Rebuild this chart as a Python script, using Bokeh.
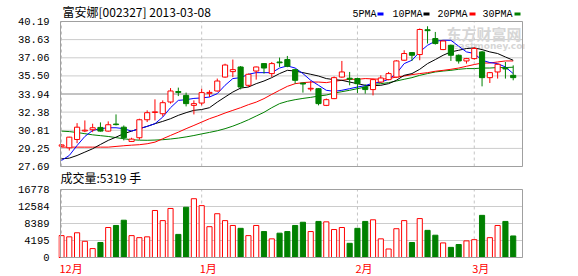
from bokeh.plotting import figure
from bokeh.models import Range1d, FixedTicker, ColumnDataSource
from bokeh.core.properties import value
from bokeh.embed import file_html
from bokeh.resources import INLINE

# ---------------- data ----------------
title_text = "富安娜[002327] 2013-03-08"
open_ = [29.45, 29.30, 30.02, 30.75, 30.86, 31.06, 30.74, 31.35, 31.08, 29.85,
         30.17, 31.72, 32.35, 32.24, 33.25, 34.15, 33.82, 32.96, 33.16, 34.00,
         34.20, 35.40, 35.87, 36.27, 34.69, 35.92, 36.56, 35.70, 36.70, 36.91,
         36.04, 34.88, 34.37, 34.40, 32.96, 33.54, 35.40, 35.30, 35.27, 34.54,
         34.32, 34.97, 35.18, 35.40, 36.85, 37.51, 37.34, 39.48, 38.72, 37.77,
         38.14, 37.28, 36.79, 36.99, 37.57, 35.35, 35.84, 36.15, 35.55]
high = [29.60, 30.25, 31.43, 31.66, 31.38, 31.49, 31.58, 32.18, 31.23, 30.17,
        31.81, 32.53, 33.48, 33.39, 34.45, 34.49, 34.06, 33.39, 34.40, 34.26,
        35.27, 36.55, 36.91, 36.35, 35.70, 36.30, 36.60, 36.70, 37.08, 37.22,
        36.10, 34.92, 35.06, 34.45, 33.55, 35.45, 36.79, 35.84, 35.35, 34.77,
        35.25, 35.55, 35.84, 36.85, 37.71, 37.55, 39.59, 39.78, 39.29, 38.55,
        38.20, 37.35, 37.05, 38.00, 37.65, 35.84, 36.55, 36.70, 36.41]
low = [29.40, 29.07, 29.70, 30.65, 30.65, 30.70, 30.70, 31.23, 29.94, 29.80,
       30.00, 31.52, 31.66, 32.01, 33.11, 33.76, 32.87, 32.18, 32.96, 33.68,
       34.15, 35.35, 35.40, 34.34, 34.54, 35.18, 35.70, 35.40, 36.27, 36.25,
       34.83, 34.06, 34.17, 32.96, 32.90, 33.50, 35.35, 34.69, 34.02, 33.97,
       33.82, 34.90, 35.12, 35.35, 36.80, 36.79, 36.85, 38.29, 38.20, 37.72,
       36.79, 36.56, 36.56, 36.90, 34.60, 34.89, 35.27, 35.27, 35.12]
close = [29.55, 30.22, 31.08, 30.82, 31.03, 30.74, 31.29, 31.30, 30.17, 30.05,
         31.72, 32.33, 32.40, 33.19, 34.20, 34.08, 33.11, 33.11, 34.06, 34.08,
         35.06, 36.44, 36.04, 34.54, 35.64, 36.27, 36.18, 36.56, 36.63, 36.33,
         35.12, 34.80, 34.43, 33.11, 33.45, 35.35, 35.84, 35.22, 34.83, 34.32,
         35.18, 35.32, 35.70, 36.79, 37.43, 37.28, 39.50, 39.40, 38.29, 38.51,
         37.28, 36.79, 36.99, 37.86, 35.35, 35.78, 36.50, 36.10, 35.35]
volume = [5400, 5100, 6100, 4000, 2200, 3700, 7400, 7900, 9200, 5400,
          4900, 5100, 11600, 9100, 12100, 5700, 12400, 14500, 12800, 7600,
          10800, 9100, 7900, 7200, 5400, 7900, 6400, 4600, 6000, 6400,
          7900, 8700, 6400, 8900, 8800, 6900, 7400, 3500, 7200, 8900,
          9300, 4600, 2100, 7100, 9100, 3700, 9600, 6700, 5500, 3600,
          2500, 3200, 4100, 4400, 10400, 4900, 7900, 8900, 5319]
ma5 = [28.21, 28.64, 29.50, 30.28, 30.80, 30.95, 31.03, 31.03, 30.95, 30.74,
       30.95, 31.15, 31.38, 31.95, 32.76, 33.39, 33.45, 33.56, 33.60, 33.68,
       33.97, 34.69, 35.27, 35.35, 35.64, 35.78, 35.78, 35.78, 36.18, 36.36,
       36.18, 35.70, 35.12, 34.69, 34.26, 34.17, 34.26, 34.40, 34.54, 34.66,
       34.88, 34.96, 35.21, 35.70, 36.56, 36.85, 37.57, 38.14, 38.49, 38.57,
       38.57, 38.06, 37.57, 37.43, 36.85, 36.65, 36.56, 36.27, 35.70]
ma10 = [28.35, 28.41, 28.64, 28.93, 29.22, 29.59, 29.94, 30.22, 30.52, 30.74,
        30.95, 31.15, 31.38, 31.58, 31.81, 32.10, 32.33, 32.53, 32.60, 32.76,
        33.24, 33.68, 34.11, 34.45, 34.54, 34.83, 35.06, 35.35, 35.70, 35.98,
        35.92, 35.78, 35.64, 35.49, 35.27, 35.18, 35.12, 34.97, 34.83, 34.69,
        34.66, 34.69, 34.83, 35.12, 35.55, 35.70, 36.07, 36.56, 36.91, 37.28,
        37.57, 37.71, 37.86, 37.91, 37.77, 37.57, 37.43, 37.13, 36.85]
ma20 = [29.36, 29.36, 29.36, 29.36, 29.36, 29.36, 29.36, 29.42, 29.48, 29.53,
        29.57, 29.65, 29.79, 30.08, 30.37, 30.65, 30.95, 31.23, 31.52, 31.81,
        32.04, 32.30, 32.53, 32.76, 33.02, 33.24, 33.54, 33.91, 34.26, 34.60,
        34.83, 34.92, 34.97, 34.97, 34.92, 35.03, 35.12, 35.21, 35.21, 35.27,
        35.24, 35.21, 35.27, 35.40, 35.49, 35.61, 35.70, 35.78, 35.90, 35.98,
        36.07, 36.18, 36.33, 36.48, 36.61, 36.61, 36.70, 36.79, 36.79]
ma30 = [30.74, 30.70, 30.62, 30.52, 30.42, 30.35, 30.28, 30.18, 30.08, 30.00,
        29.96, 29.95, 29.97, 30.00, 30.06, 30.14, 30.24, 30.36, 30.50, 30.63,
        30.77, 30.95, 31.17, 31.43, 31.72, 32.04, 32.36, 32.76, 33.11, 33.31,
        33.45, 33.56, 33.65, 33.76, 33.85, 34.02, 34.14, 34.26, 34.40, 34.54,
        34.77, 34.83, 34.92, 35.06, 35.21, 35.35, 35.55, 35.70, 35.84, 35.92,
        35.98, 36.07, 36.13, 36.13, 36.18, 36.18, 36.22, 36.22, 36.25]
price_ticks = [27.69, 29.25, 30.81, 32.38, 33.94, 35.50, 37.06, 38.63, 40.19]
vol_ticks = [0, 4195, 8389, 12584, 16778]
month_idx = [0, 18, 38, 53]
month_names = ["12月", "1月", "2月", "3月"]
ma_names = ["5PMA", "10PMA", "20PMA", "30PMA"]
ma_colors = ["#0000ff", "#000000", "#ff0000", "#008000"]

# ---------------- layout constants (pixels) ----------------
W, H = 578, 276
FL, FR = 58, 524            # frame left / right
PL, PR = 60, 522            # panel border left / right
X0PX, PPU = 61.0, 7.788     # pixel of first bar, pixels per bar
PT, PB = 21, 166            # price panel top / bottom
VT, VB = 189, 257           # volume panel top / bottom

RED, GREEN = "#ff0000", "#008000"
GRID, BORDER = "#cccccc", "#a0a0a0"
MONO, CJK = "Liberation Mono", "Noto Sans CJK SC"

def px_x(px):
    return (px - X0PX) / PPU

# price scale: value <-> pixel row
UPP1 = (price_ticks[-1] - price_ticks[0]) / (PB - PT)
P_END = price_ticks[-1] + PT * UPP1
P_START = price_ticks[-1] - (H - PT) * UPP1
# volume scale
UPPV = (vol_ticks[-1] - vol_ticks[0]) / (VB - VT)
V_END = vol_ticks[-1] + VT * UPPV
V_START = vol_ticks[0] - (H - VB) * UPPV

def price_row(v):
    return PT + (price_ticks[-1] - v) / UPP1

def vol_row(v):
    return VB - (v - vol_ticks[0]) / UPPV

xL, xR = px_x(PL), px_x(PR)

xs = list(range(len(close)))
is_up = [c >= o for o, c in zip(open_, close)]
src = ColumnDataSource(dict(
    x=xs, high=high, low=low,
    top=[max(o, c) for o, c in zip(open_, close)],
    bottom=[min(o, c) for o, c in zip(open_, close)],
    vol=volume,
    line=[RED if u else GREEN for u in is_up],
    fill=["#ffffff" if u else GREEN for u in is_up],
))

# default y range = pixel rows (0 at top); price and volume have their own ranges
p = figure(width=W, height=H, x_range=Range1d(px_x(FL), px_x(FR)), y_range=Range1d(H, 0),
           output_backend="svg", toolbar_location=None, x_axis_location=None,
           min_border_left=FL, min_border_right=W - FR, min_border_top=0, min_border_bottom=0)
p.extra_y_ranges = {"price": Range1d(P_START, P_END), "vol": Range1d(V_START, V_END)}
p.outline_line_color = None
p.background_fill_color = "#ffffff"
p.border_fill_color = "#ffffff"
p.xgrid.visible = False
p.ygrid.visible = False

# one left axis carrying the tick labels of both panels
tick_rows = [price_row(v) for v in price_ticks] + [vol_row(v) for v in vol_ticks]
tick_text = [f"{v:.2f}" for v in price_ticks] + [f"{v}" for v in vol_ticks]
ax = p.yaxis[0]
ax.ticker = FixedTicker(ticks=tick_rows)
ax.major_label_overrides = dict(zip(tick_rows, tick_text))
ax.axis_line_color = None
ax.major_tick_line_color = None
ax.minor_tick_line_color = None
ax.major_label_standoff = 3
ax.major_label_text_font = MONO
ax.major_label_text_font_size = "10.5px"
ax.major_label_text_color = "#000000"

def panel(ticks, rname, mid=None):
    n = len(ticks)
    p.segment(x0=[xL] * n, x1=[xR] * n, y0=ticks, y1=ticks, line_color=GRID, line_width=1,
              y_range_name=rname)
    m = len(month_idx)
    p.segment(x0=month_idx, x1=month_idx, y0=[ticks[0]] * m, y1=[ticks[-1]] * m,
              line_color="#c4c4c4", line_width=1, line_dash="3 3", y_range_name=rname)
    if mid is not None:
        p.segment(x0=[xL], x1=[xR], y0=[mid], y1=[mid], line_color=BORDER, line_width=1,
                  y_range_name=rname)

def border(ticks, rname):
    p.quad(left=[xL], right=[xR], bottom=[ticks[0]], top=[ticks[-1]],
           fill_color=None, line_color=BORDER, line_width=1, y_range_name=rname)

# ---------------- price panel ----------------
panel(price_ticks, "price", mid=price_ticks[4])

# watermark (pixel rows)
p.text(x=[px_x(446)], y=[33], text=["东方财富网"], text_font=value(CJK),
       text_font_size=value("15px"), text_font_style="bold", text_color="#d6d6d6",
       text_baseline="middle")
p.text(x=[px_x(452)], y=[45.5], text=["eastmoney.com"], text_font=value("DejaVu Sans"),
       text_font_size=value("9px"), text_font_style="bold", text_color="#d6d6d6",
       text_baseline="middle")

for vals, col in zip([ma30, ma20, ma10, ma5], ma_colors[::-1]):
    p.line(xs, vals, line_color=col, line_width=1, y_range_name="price")

p.segment(x0="x", y0="low", x1="x", y1="high", line_color="line", line_width=1, source=src,
          y_range_name="price")
p.vbar(x="x", top="top", bottom="bottom", width=0.66, fill_color="fill", line_color="line",
       line_width=1, source=src, y_range_name="price")
border(price_ticks, "price")

# header: title + legend (pixel rows)
p.text(x=[px_x(62)], y=[11], text=[title_text], text_font=value(CJK),
       text_font_size=value("12px"), text_color="#000000", text_baseline="middle")
leg_x = [352, 392, 437, 482]
box_x = [377, 423, 469, 514]
p.text(x=[px_x(v) for v in leg_x], y=[14] * 4, text=ma_names, text_font=value(MONO),
       text_font_size=value("10px"), text_color="#000000", text_baseline="middle")
p.quad(left=[px_x(v) for v in box_x], right=[px_x(v + 6) for v in box_x],
       top=[12] * 4, bottom=[15] * 4, fill_color=ma_colors, line_color=None)

# volume caption
p.text(x=[px_x(60)], y=[177], text=[f"成交量:{volume[-1]} 手"], text_font=value(CJK),
       text_font_size=value("12px"), text_color="#000000", text_baseline="middle")

# ---------------- volume panel ----------------
panel(vol_ticks, "vol")
p.vbar(x="x", top="vol", bottom=0, width=0.66, fill_color="fill", line_color="line",
       line_width=1, source=src, y_range_name="vol")
border(vol_ticks, "vol")
p.text(x=month_idx, y=[267.5] * len(month_idx), text=month_names, x_offset=-2,
       text_font=value(CJK), text_font_size=value("11px"), text_color=RED,
       text_align="left", text_baseline="middle")

open("out.html", "w").write(file_html(p, INLINE))
